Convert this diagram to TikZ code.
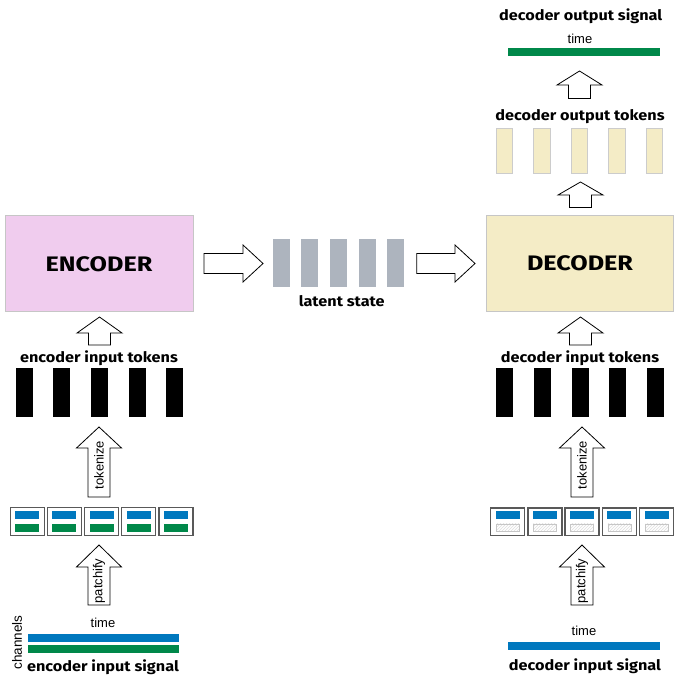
\documentclass[tikz,border=0pt]{standalone}
\usepackage{fontspec}
\setmainfont{Liberation Sans}
\newfontfamily\titlefont{Fira Sans}[FakeStretch=1.12]
\newfontfamily\bigfont{Fira Sans}[FakeStretch=1.2]
\usetikzlibrary{patterns}
\definecolor{bblue}{HTML}{0078BE}
\definecolor{bgreen}{HTML}{00884A}
\definecolor{encpink}{HTML}{F0CCEE}
\definecolor{deccream}{HTML}{F4ECC6}
\definecolor{latgray}{HTML}{ADB4BE}
\newcommand\UpBlock[4]{% cx, tip y, head base y, bottom y
  \draw[blockarrow] (#1-11,#4) -- (#1-11,#3) -- (#1-22.5,#3) -- (#1,#2) -- (#1+22.5,#3) -- (#1+11,#3) -- (#1+11,#4) -- cycle;}
\newcommand\RightBlock[4]{% cy, tail x, head base x, tip x
  \draw[blockarrow] (#2,#1-10) -- (#3,#1-10) -- (#3,#1-18.5) -- (#4,#1) -- (#3,#1+18.5) -- (#3,#1+10) -- (#2,#1+10) -- cycle;}
\begin{document}
\begin{tikzpicture}[x=1pt,y=-1pt,
  blockarrow/.style={draw=black,fill=white,line width=0.8pt,line join=miter},
  bigbox/.style={minimum width=188pt,minimum height=96pt,inner sep=0pt,draw=gray!45,line width=0.6pt},
  biglbl/.style={anchor=base,inner sep=0pt,font=\bigfont\bfseries\fontsize{21}{24}\selectfont},
  title/.style={anchor=base,inner sep=0pt,font=\titlefont\bfseries\fontsize{14.5}{16}\selectfont},
  small/.style={anchor=base,inner sep=0pt,font=\fontsize{13}{15}\selectfont},
  tok/.style={minimum width=17pt,minimum height=49pt,inner sep=0pt},
  blacktok/.style={tok,fill=black},
  lattok/.style={tok,fill=latgray,minimum height=48pt},
  outtok/.style={tok,fill=deccream,draw=gray!40,line width=0.5pt,minimum width=16.5pt,minimum height=45pt},
  pbox/.style={minimum width=34pt,minimum height=27.5pt,inner sep=0pt,draw=gray!70!black,line width=1.3pt,fill=white},
  pbar/.style={minimum width=24pt,minimum height=8pt,inner sep=0pt},
  sigbar/.style={minimum height=8pt,inner sep=0pt,minimum width=151.6pt},
]
\useasboundingbox (0,0) rectangle (673,679);

% big boxes
\node[bigbox,fill=encpink] (enc) at (99,263) {};
\node[biglbl] (enclbl) at (99,271) {ENCODER};
\node[bigbox,fill=deccream,minimum width=187pt] (dec) at (579.5,263) {};
\node[biglbl] (declbl) at (580,270.7) {DECODER};

% latent tokens
\foreach \i in {0,...,4} \node[lattok] (lt\i) at (281.3+28.6*\i,262.8) {};
\node[title] (latlbl) at (341.7,306) {latent state};

% horizontal arrows
\RightBlock{263.5}{204}{243}{263}
\RightBlock{263.5}{416.7}{455}{475}

% encoder side
\foreach \i in {0,...,4} \node[blacktok] (et\i) at (24+37.7*\i,392) {};
\node[title] (etlbl) at (99,362) {encoder input tokens};
\UpBlock{99.5}{317}{333}{345}
\UpBlock{99}{427}{448}{497}
\node[rotate=90,inner sep=0pt,font=\fontsize{13}{15}\selectfont] (tokL) at (99,465) {tokenize};

\foreach \i in {0,...,4} {
  \node[pbox] (ep\i) at (27.2+37.2*\i,521.5) {};
  \node[pbar,fill=bblue] (epb\i) at (ep\i.center) [yshift=6.3pt] {};
  \node[pbar,fill=bgreen] (epg\i) at (ep\i.center) [yshift=-6pt] {};
}
\UpBlock{99}{545}{567}{605}
\node[rotate=90,inner sep=0pt,font=\fontsize{13}{15}\selectfont] (patL) at (99,581) {patchify};

\node[small] (timeL) at (103,627.3) {time};
\node[sigbar,fill=bblue] (esigb) at (103.5,638.3) {};
\node[sigbar,fill=bgreen] (esigg) at (103.5,649.2) {};
\node[rotate=90,inner sep=0pt,font=\fontsize{13.5}{15}\selectfont] (chan) at (17,642.5) {channels};
\node[title] (esiglbl) at (103,671) {encoder input signal};

% decoder side
\foreach \i in {0,...,4} \node[blacktok] (dt\i) at (504.7+37.65*\i,392.8) {};
\node[title] (dtlbl) at (580,362.8) {decoder input tokens};
\UpBlock{580.5}{317}{333}{345}
\UpBlock{582}{427}{448}{497}
\node[rotate=90,inner sep=0pt,font=\fontsize{13}{15}\selectfont] (tokR) at (582,465) {tokenize};

\foreach \i in {0,...,4} {
  \node[pbox] (dp\i) at (507.7+37.2*\i,521.7) {};
  \node[pbar,fill=bblue] (dpb\i) at (dp\i.center) [yshift=6.3pt] {};
  \node[pbar,fill=white,draw=gray!45,line width=0.6pt,pattern=north east lines,pattern color=gray!25,minimum width=23pt,minimum height=7.5pt] (dpm\i) at (dp\i.center) [yshift=-6pt] {};
}
\UpBlock{582}{545}{567}{605}
\node[rotate=90,inner sep=0pt,font=\fontsize{13}{15}\selectfont] (patR) at (582,581) {patchify};

\node[small] (timeR) at (584,635.7) {time};
\node[sigbar,fill=bblue] (dsigb) at (583.8,645.5) {};
\node[title] (dsiglbl) at (585,670.7) {decoder input signal};

% decoder output
\UpBlock{580.5}{182}{195}{207.5}
\foreach \i in {0,...,4} \node[outtok] (ot\i) at (504.3+37.5*\i,150.8) {};
\node[title] (otlbl) at (580,121) {decoder output tokens};
\UpBlock{579.5}{71}{85}{98.5}
\node[sigbar,fill=bgreen] (osig) at (583.8,52.2) {};
\node[small] (timeT) at (580,43.3) {time};
\node[title] (osiglbl) at (580.7,21) {decoder output signal};
\end{tikzpicture}
\end{document}
